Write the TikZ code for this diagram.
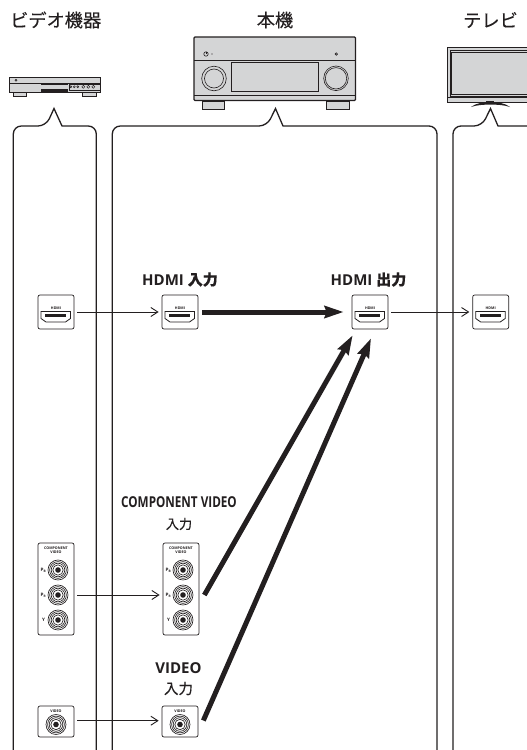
\documentclass[tikz,border=0pt]{standalone}
\usepackage{fontspec}
\setmainfont{Open Sans}
\newfontfamily\jpfont[FakeBold=0.25]{Noto Sans CJK JP}
\newfontfamily\jpbold[FakeBold=0.3]{Noto Sans CJK JP}
\usetikzlibrary{arrows.meta,calc}
\definecolor{ink}{HTML}{231F20}
\definecolor{devgrey}{HTML}{D4D5D6}
\tikzset{
  x=1pt,y=-1pt,
  panel/.style={draw=ink,line width=1.3pt,rounded corners=8pt,fill=none},
  portbox/.style={draw=ink,line width=0.7pt,rounded corners=2pt,fill=white,inner sep=0pt,minimum width=36pt},
  tiny/.style={inner sep=0pt,text=ink,font=\fontsize{3.6}{3.6}\selectfont\bfseries,align=center},
  thinarrow/.style={draw=ink,line width=0.9pt,-{Straight Barb[length=7pt,width=9pt,line width=0.9pt]}},
  thickarrow/.style={draw=ink,line width=5pt,-{Stealth[length=19pt,width=12pt,inset=2pt]}},
  title/.style={inner sep=0pt,text=ink,font=\fontsize{18.2}{18.2}\selectfont\jpfont},
  lab/.style={inner sep=0pt,text=ink,font=\fontsize{15}{15}\selectfont\bfseries},
  labjp/.style={inner sep=0pt,text=ink,font=\fontsize{14.5}{14.5}\selectfont\jpbold},
  dev/.style={draw=ink,line width=0.6pt,fill=devgrey},
  hdmiport/.pic={
    \node[tiny] (t) at (0,-4) {HDMI};
    \draw[ink,line width=0.8pt] (-15,-0.5) -- (14.5,-0.5) -- (14.5,6.5) -- (9.5,10) -- (-10,10) -- (-15,6.5) -- cycle;
    \fill[ink] (-10.7,2.3) rectangle (10,5);
  },
  jack/.pic={
    \foreach \r in {10,8.4,6.8,5.2}{\draw[ink,line width=0.65pt] (0,0) circle[radius=\r];}
    \fill[ink] (0,0) circle[radius=2.8];
  }
}
\begin{document}
\begin{tikzpicture}
\useasboundingbox (0,0) rectangle (527,750);
\begin{scope}
\clip (0,0) rectangle (527,750);
\fill[white] (0,0) rectangle (527,750);
% panels
\draw[panel] (13.3,756) -- (13.3,126) -- (46,126) [sharp corners] -- (54,108.5) -- (62,126) [rounded corners=8pt] -- (96.3,126) -- (96.3,756);
\draw[panel] (112.3,756) -- (112.3,126) -- (267,126) [sharp corners] -- (275.5,108.5) -- (283,126) [rounded corners=8pt] -- (437,126) -- (437,756);
\draw[panel] (453,756) -- (453,126) -- (482,126) [sharp corners] -- (490.5,108.5) -- (498,126) [rounded corners=8pt] -- (545,126) -- (545,756);

% receiver
\draw[dev,line width=1pt] (202,101) rectangle (224.5,109);
\draw[dev,line width=1pt] (326,101) rectangle (349,109);
\draw[dev,line width=1.3pt,rounded corners=1pt] (194,37) rectangle (355.5,100.5);
\draw[ink,line width=0.7pt] (194,60) -- (355.5,60);
\draw[ink,line width=0.5pt] (194,95) -- (355.5,95);
\draw[dev,line width=0.7pt] (231,62.7) rectangle (318,91.7);
\draw[ink,line width=0.6pt] (214,78.5) circle[radius=12.3];
\draw[ink,line width=0.6pt] (214,78.5) circle[radius=9.5];
\draw[ink,line width=0.6pt] (336,78.3) circle[radius=12.3];
\draw[ink,line width=0.6pt] (336,78.3) circle[radius=10.7];
\draw[ink,line width=0.6pt] (206,54) circle[radius=2.2];
\draw[ink,line width=0.5pt] (206,51.5) -- (206,54);
\fill[ink] (212,54) circle[radius=0.6];
\draw[ink,line width=0.7pt] (336.3,54) circle[radius=1.2];

% video player
\draw[dev,line width=0.8pt] (13.3,92) rectangle (26.7,96);
\draw[dev,line width=0.8pt] (82.7,92) rectangle (96.7,96);
\fill[ink] (38,90) rectangle (72,93.3);
\draw[dev,line width=0.7pt] (9.3,77) rectangle (100,92.7);
\draw[ink,line width=0.5pt] (9.3,83.3) -- (100,83.3);
\fill[ink] (41,84) rectangle (68,92.7);
\fill[devgrey] (41.3,85) rectangle (67.7,89.4);
\draw[ink,line width=0.5pt] (16,80.3) circle[radius=1];
\draw[ink,line width=0.5pt] (69,84) rectangle (100,90);
\foreach \bx in {70.7,74.3,77.7}{\draw[ink,line width=0.5pt] (\bx,86.8) circle[radius=1];}
\foreach \bx in {83.3,88.3,93.3}{\draw[ink,line width=0.5pt] (\bx,86.8) circle[radius=1.5];}

% TV
\draw[dev,line width=0.7pt] (447,47) rectangle (540,102);
\draw[ink,fill=devgrey,line width=0.6pt] (450,50.2) rectangle (540,96);
\draw[ink,line width=0.35pt] (451.5,51.8) rectangle (540,94.4);
\draw[ink,line width=0.5pt] (447,97.5) -- (540,97.5);
\fill[ink] (471,107) .. controls (476,103) and (483,102.3) .. (490.5,102.3) .. controls (498,102.3) and (505,103) .. (510,107) .. controls (504,105) and (498,104.6) .. (490.5,104.6) .. controls (483,104.6) and (477,105) .. (471,107) -- cycle;
\draw[ink,line width=0.5pt] (486,101) -- (494,101);
\end{scope}

% titles
\node[title,anchor=west] (tvid) at (10,20) {ビデオ機器};
\node[title] (tmain) at (275,20) {本機};
\node[title,anchor=west] (ttv) at (463,20) {テレビ};

% labels
\node[lab] (lin) at (180,279.5) {HDMI {\jpbold\fontsize{15}{15}\selectfont 入力}};
\node[lab] (lout) at (368.5,279.5) {HDMI {\jpbold\fontsize{15}{15}\selectfont 出力}};
\node[lab,xscale=0.78] (lcomp) at (179,502) {COMPONENT VIDEO};
\node[labjp,font=\fontsize{13.2}{13.2}\selectfont\jpfont] (lcompj) at (179,524) {入力};
\node[lab] (lvid) at (178.5,668.5) {VIDEO};
\node[labjp] (lvidj) at (178.5,688.5) {入力};

% HDMI boxes
\node[portbox,minimum height=34pt] (h1) at (56,312) {};
\node[portbox,minimum height=34pt] (h2) at (180,312) {};
\node[portbox,minimum height=34pt] (h3) at (370,312) {};
\node[portbox,minimum height=34pt] (h4) at (490.7,312) {};
\pic at (56,312) {hdmiport};
\pic at (180,312) {hdmiport};
\pic at (370,312) {hdmiport};
\pic at (490.7,312) {hdmiport};

% component boxes
\node[portbox,minimum height=92pt] (c1) at (56,589) {};
\node[portbox,minimum height=92pt] (c2) at (181,589) {};
\foreach \cx/\jx/\nm in {56/58/a,181/183/b}{
  \node[tiny,font=\fontsize{3.6}{3.6}\selectfont\bfseries] (ct\nm) at (\cx,550.5) {COMPONENT\\VIDEO};
  \pic at (\jx,570) {jack};
  \pic at (\jx,595) {jack};
  \pic at (\jx,620) {jack};
  \node[tiny,font=\fontsize{4.6}{4.6}\selectfont\bfseries] (pb\nm) at (\jx-14.5,570) {P\textsubscript{B}};
  \node[tiny,font=\fontsize{4.6}{4.6}\selectfont\bfseries] (pr\nm) at (\jx-14.5,595) {P\textsubscript{R}};
  \node[tiny,font=\fontsize{4.6}{4.6}\selectfont\bfseries] (y\nm) at (\jx-14.5,620) {Y};
}

% video boxes
\node[portbox,minimum height=31pt] (v1) at (56,721.5) {};
\node[portbox,minimum height=31pt] (v2) at (180,721.5) {};
\foreach \cx/\nm in {56/a,180/b}{
  \node[tiny] (vt\nm) at (\cx,711) {VIDEO};
  \pic at (\cx,724.5) {jack};
}

% connectors
\draw[thinarrow,shorten <=3pt,shorten >=3pt] (h1) -- (h2);
\draw[thinarrow,shorten <=3pt,shorten >=3pt] (h3) -- (h4);
\draw[thickarrow,shorten <=4pt,shorten >=8pt] (h2) -- (h3);
\coordinate (cs) at ($(c2.east)+(5,6)$);
\coordinate (ce) at ($(h3.south west)+(1,6)$);
\coordinate (vs) at ($(v2.east)+(5,-1)$);
\coordinate (ve) at ($(h3.south)+(1,9)$);
\coordinate (c1e) at ($(c1.east)+(3,6)$);
\coordinate (c2w) at ($(c2.west)+(-3,6)$);
\coordinate (v1e) at ($(v1.east)+(3,-0.8)$);
\coordinate (v2w) at ($(v2.west)+(-3,-0.8)$);
\draw[thickarrow] (cs) -- (ce);
\draw[thickarrow] (vs) -- (ve);
\draw[thinarrow] (c1e) -- (c2w);
\draw[thinarrow] (v1e) -- (v2w);
\end{tikzpicture}
\end{document}
